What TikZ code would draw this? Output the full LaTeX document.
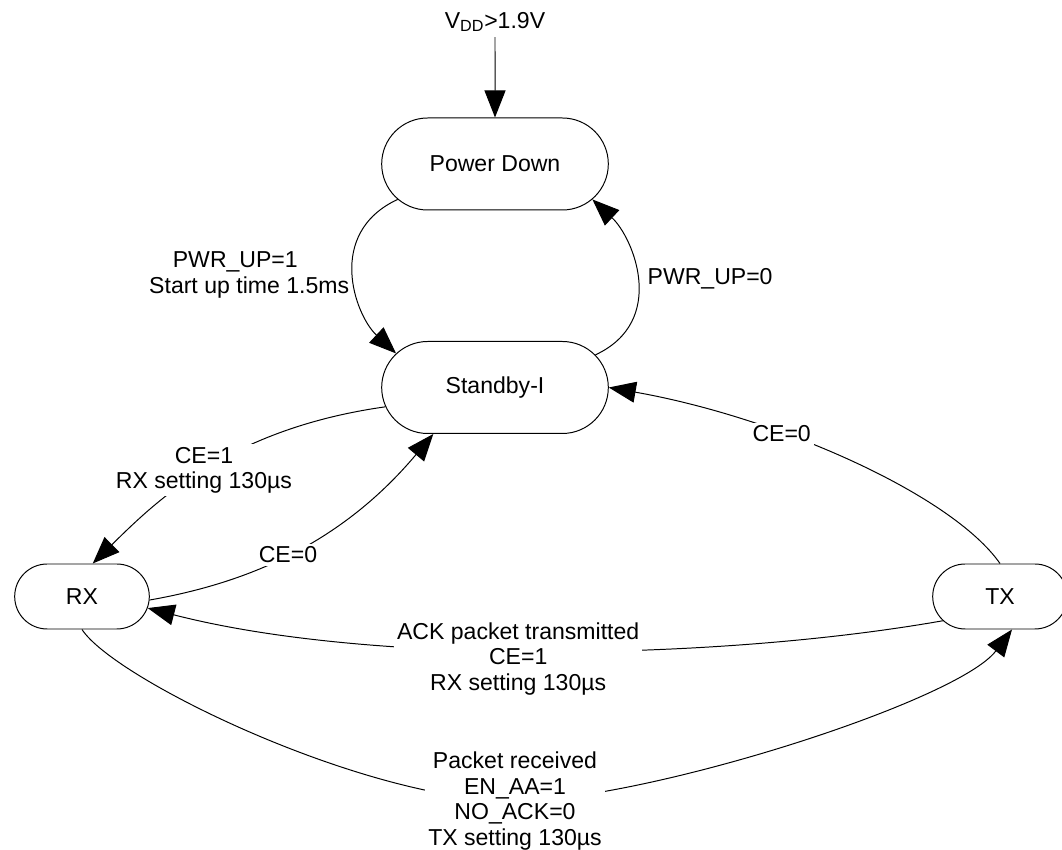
\documentclass[tikz,border=0pt]{standalone}
\usepackage{fontspec}
\setmainfont{Liberation Sans}
\usetikzlibrary{shapes.misc,arrows.meta}

\begin{document}
\begin{tikzpicture}[
   font=\fontsize{16.4}{18.1}\selectfont,
   line width=0.7pt,
   >={Triangle[length=0.675cm,width=0.525cm]},
   state/.style={draw, rounded rectangle, minimum width=5.9cm, minimum height=2.3cm},
   small state/.style={state, minimum width=3.6cm, minimum height=1.625cm},
   cond/.style={fill=white, align=center, inner sep=2pt}]
   \useasboundingbox (0,0) rectangle (26.55,21.25);
   \node (vdd) at (12.375,20.7) {V\textsubscript{DD}>1.9V};
   \node[state] (pd) at (12.375,17.15) {Power Down};
   \node[state] (sb) at (12.375,11.5625) {Standby-I};
   \node[small state] (rx) at (2.05,6.3375) {RX};
   \node[small state] (tx) at (25,6.3375) {TX};
   \coordinate (pkt) at (12.875,1.225);
   \draw[->] (vdd) -- (pd);
   \draw[->] (pd.200) .. controls +(205:2) and +(137:1.4) ..
      node[left, align=center] {PWR\_UP=1\hspace*{1.2em}\\Start up time 1.5ms} (sb.161.5);
   \draw[->] (sb.18.5) .. controls +(25:2) and +(-43:1.4) ..
      node[right, xshift=0.15cm] {PWR\_UP=0} (pd.-20);
   \draw[->] (sb.190) .. controls +(188:3.95) and +(44.5:2.2) ..
      node[cond] {CE=1\\RX setting 130µs} (rx.72);
   \draw[->] (rx.-3) .. controls +(10:2.225) and +(230:3.775) ..
      node[cond] {CE=0} (sb.217);
   \draw[->] (tx.north) .. controls +(125:2.125) and +(-10:4.25) ..
      node[cond, pos=0.65] {CE=0} (sb.east);
   \draw[->] (tx.203) .. controls +(190:5.75) and +(-14.5:5.75) ..
      node[cond, pos=0.53, yshift=-0.2cm] {ACK packet transmitted\\CE=1\\RX setting 130µs} (rx.-10);
   \draw[->] (rx.south) .. controls +(-57:1.5) and +(180:3.75) .. (pkt)
      node[cond] {Packet received\\EN\_AA=1\\NO\_ACK=0\\TX setting 130µs}
      .. controls +(0:3.25) and +(233:2.25) .. (tx.-70);
\end{tikzpicture}
\end{document}
